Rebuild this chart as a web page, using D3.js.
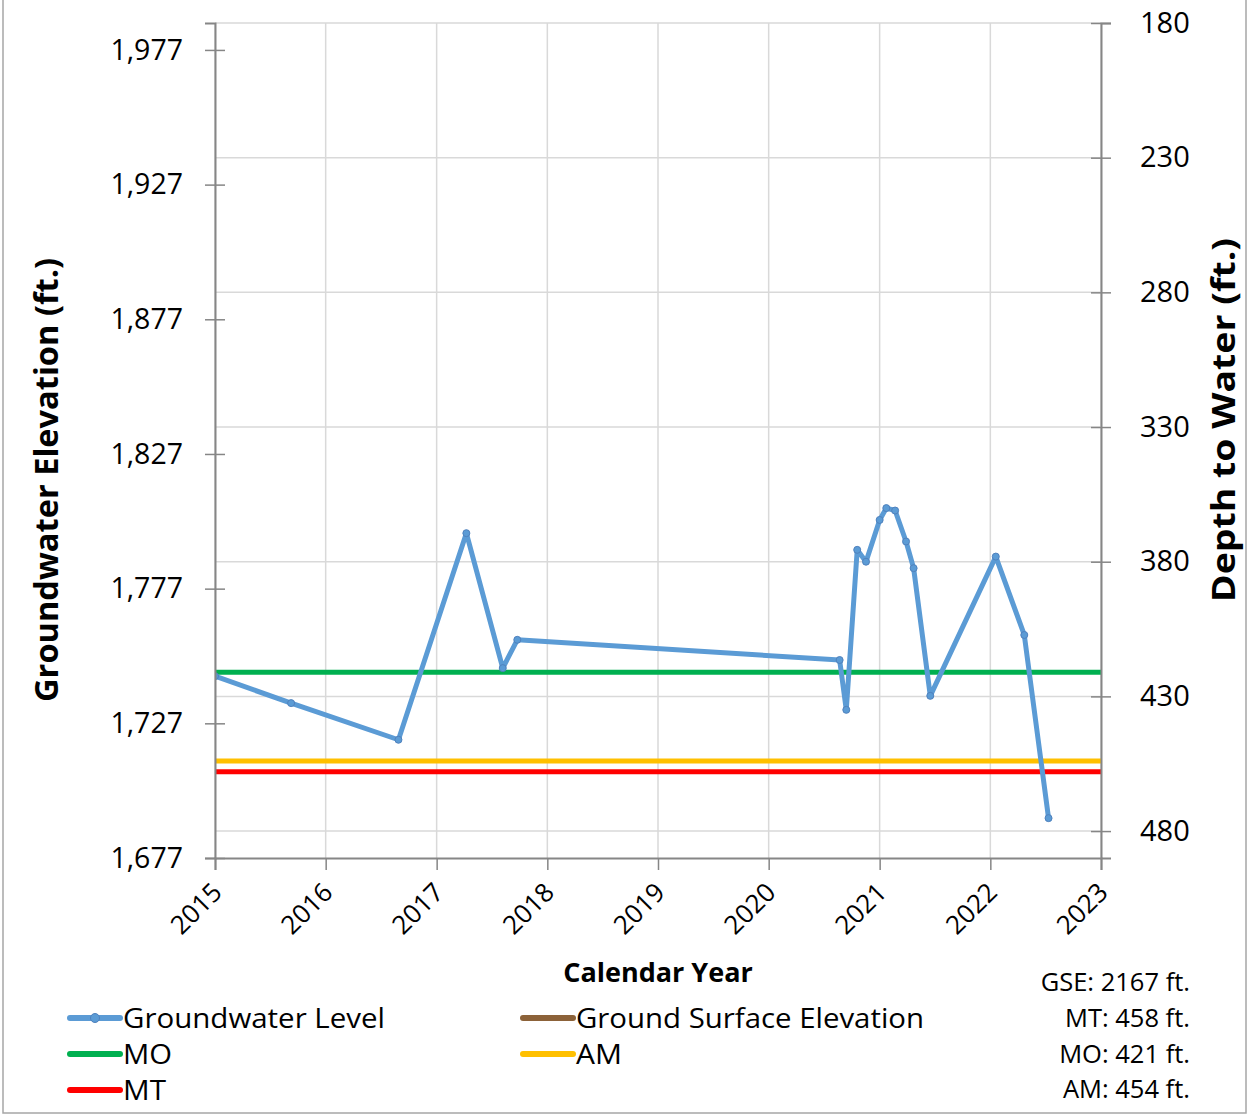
<!DOCTYPE html>
<html>
<head>
<meta charset="utf-8">
<script src="https://cdn.jsdelivr.net/npm/d3@7"></script>
<style>
  html, body { margin: 0; padding: 0; background: #fff; }
  svg { display: block; font-family: "Open Sans", "Noto Sans", sans-serif; }
</style>
</head>
<body>
<svg id="chart" width="1249" height="1118"></svg>
<script>
// ---- data ----
const sampleDates = ["2015-01-01","2015-09-09","2016-08-28","2017-04-09","2017-08-07","2017-09-24",
  "2020-08-22","2020-09-13","2020-10-19","2020-11-17","2021-01-01","2021-01-23","2021-02-21",
  "2021-03-29","2021-04-23","2021-06-17","2022-01-19","2022-04-23","2022-07-12"];
const groundwaterLevel = [1744.5,1734.5,1720.9,1797.6,1747.5,1758.0,
  1750.5,1732.0,1791.4,1787.0,1802.5,1806.9,1806.0,
  1794.5,1784.6,1737.2,1788.9,1759.8,1691.8];
const groundSurfaceElevation = 2167;
const depthMT = 458, depthMO = 421, depthAM = 454;
const leftTicks = [1677, 1727, 1777, 1827, 1877, 1927, 1977];
const rightTicks = [180, 230, 280, 330, 380, 430, 480];
const yearTicks = [2015,2016,2017,2018,2019,2020,2021,2022,2023];
const legendLabels = ["Groundwater Level","Ground Surface Elevation","MO","AM","MT"];
const noteLabels = ["GSE: 2167 ft.","MT: 458 ft.","MO: 421 ft.","AM: 454 ft."];

// ---- layout ----
const svg = d3.select("#chart");
const L = 215, R = 1101, T = 23, B = 858;
const parse = d3.timeParse("%Y-%m-%d");
const pts = sampleDates.map((d,i) => ({date: parse(d), v: groundwaterLevel[i]}));

const x = d3.scaleTime().domain([new Date(2015,0,1), new Date(2023,0,1)]).range([L, R]);
const yL = d3.scaleLinear().domain([1677, groundSurfaceElevation - 180]).range([B, T]);
const yR = d3.scaleLinear().domain([groundSurfaceElevation - 1677, 180]).range([B, T]);

svg.append("rect").attr("x",0).attr("y",0).attr("width",1249).attr("height",1118).attr("fill","#fff");
// outer frame
svg.append("rect").attr("x",3).attr("y",-5).attr("width",1243).attr("height",1118)
  .attr("fill","none").attr("stroke","#a6a6a6").attr("stroke-width",1.5);

// gridlines
const grid = svg.append("g").attr("stroke","#d9d9d9").attr("stroke-width",1.5);
rightTicks.forEach(t => grid.append("line").attr("x1",L).attr("x2",R).attr("y1",yR(t)).attr("y2",yR(t)));
yearTicks.forEach(yr => grid.append("line").attr("x1",x(new Date(yr,0,1))).attr("x2",x(new Date(yr,0,1))).attr("y1",T).attr("y2",B));

// clip
svg.append("clipPath").attr("id","clip").append("rect").attr("x",L).attr("y",T).attr("width",R-L).attr("height",B-T);
const plot = svg.append("g").attr("clip-path","url(#clip)");

// threshold lines (depth -> elevation)
const hline = (depth, color) => plot.append("line")
  .attr("x1",L).attr("x2",R).attr("y1",yR(depth)).attr("y2",yR(depth))
  .attr("stroke",color).attr("stroke-width",5);
plot.append("line").attr("x1",L).attr("x2",R).attr("y1",yL(groundSurfaceElevation)).attr("y2",yL(groundSurfaceElevation))
  .attr("stroke","#8c6239").attr("stroke-width",5);
hline(depthMO, "#00b050");
hline(depthAM, "#ffc000");
hline(depthMT, "#ff0000");

// groundwater line
const line = d3.line().x(d => x(d.date)).y(d => yL(d.v));
plot.append("path").datum(pts).attr("d", line).attr("fill","none")
  .attr("stroke","#5b9bd5").attr("stroke-width",5).attr("stroke-linejoin","round");
plot.selectAll("circle.pt").data(pts).enter().append("circle")
  .attr("class","pt").attr("cx",d => x(d.date)).attr("cy",d => yL(d.v)).attr("r",3.5)
  .attr("fill","#5b9bd5").attr("stroke","#4f81bd").attr("stroke-width",1);

// axes
const axisColor = "#868686";
const gL = svg.append("g").attr("transform",`translate(${L},0)`)
  .call(d3.axisLeft(yL).tickValues(leftTicks).tickFormat(d3.format(",")).tickSize(10).tickPadding(22));
gL.selectAll(".tick line").attr("x2",-10).attr("x1",10);
const gR = svg.append("g").attr("transform",`translate(${R},0)`)
  .call(d3.axisRight(yR).tickValues(rightTicks).tickFormat(d3.format("d")).tickSize(10).tickPadding(29));
gR.selectAll(".tick line").attr("x1",-10).attr("x2",10);
const gX = svg.append("g").attr("transform",`translate(0,${B})`)
  .call(d3.axisBottom(x).tickValues(yearTicks.map(y => new Date(y,0,1))).tickFormat(d3.timeFormat("%Y")).tickSize(12));
[gL,gR,gX].forEach(g => {
  g.select(".domain").attr("stroke",axisColor).attr("stroke-width",2);
  g.selectAll(".tick line").attr("stroke",axisColor).attr("stroke-width",1.5);
  g.selectAll("text").attr("fill","#000").style("font-family",'"Open Sans", sans-serif');
});
gL.selectAll("text").style("font-size","28.5px");
gR.selectAll("text").style("font-size","29px");
gX.selectAll("text").style("font-size","26px")
  .attr("text-anchor","end").attr("dy",null).attr("y",null)
  .attr("transform","translate(8,36) rotate(-45)");

// axis titles
svg.append("text").attr("transform","translate(58,480) rotate(-90)").attr("text-anchor","middle")
  .attr("textLength",444).attr("lengthAdjust","spacingAndGlyphs")
  .style("font-size","32px").style("font-weight","bold").text("Groundwater Elevation (ft.)");
svg.append("text").attr("transform","translate(1235,420) rotate(-90)").attr("text-anchor","middle")
  .attr("textLength",364).attr("lengthAdjust","spacingAndGlyphs")
  .style("font-size","32px").style("font-weight","bold").text("Depth to Water (ft.)");
svg.append("text").attr("x",658).attr("y",982).attr("text-anchor","middle")
  .style("font-size","27px").style("font-weight","bold").text("Calendar Year");

// legend
const legendItems = [
  {label: legendLabels[0], color:"#5b9bd5", x:70, y:1018, marker:true, len:262},
  {label: legendLabels[1], color:"#8c6239", x:523, y:1018, len:348},
  {label: legendLabels[2], color:"#00b050", x:70, y:1054, len:49},
  {label: legendLabels[3], color:"#ffc000", x:523, y:1054, len:46},
  {label: legendLabels[4], color:"#ff0000", x:70, y:1090, len:43}
];
const lg = svg.append("g");
legendItems.forEach(it => {
  lg.append("line").attr("x1",it.x).attr("x2",it.x+50).attr("y1",it.y).attr("y2",it.y)
    .attr("stroke",it.color).attr("stroke-width",6).attr("stroke-linecap","round");
  if (it.marker) lg.append("circle").attr("cx",it.x+25).attr("cy",it.y).attr("r",4.5).attr("fill",it.color).attr("stroke","#4f81bd");
  lg.append("text").attr("x",it.x+53).attr("y",it.y+10)
    .attr("textLength",it.len).attr("lengthAdjust","spacingAndGlyphs")
    .style("font-size","26.4px").text(it.label);
});
// notes
noteLabels.forEach((t,i) => {
  svg.append("text").attr("x",1190).attr("y",[982,1018,1054,1089][i]+9).attr("text-anchor","end")
    .style("font-size","25.5px").text(t);
});
</script>
</body>
</html>
